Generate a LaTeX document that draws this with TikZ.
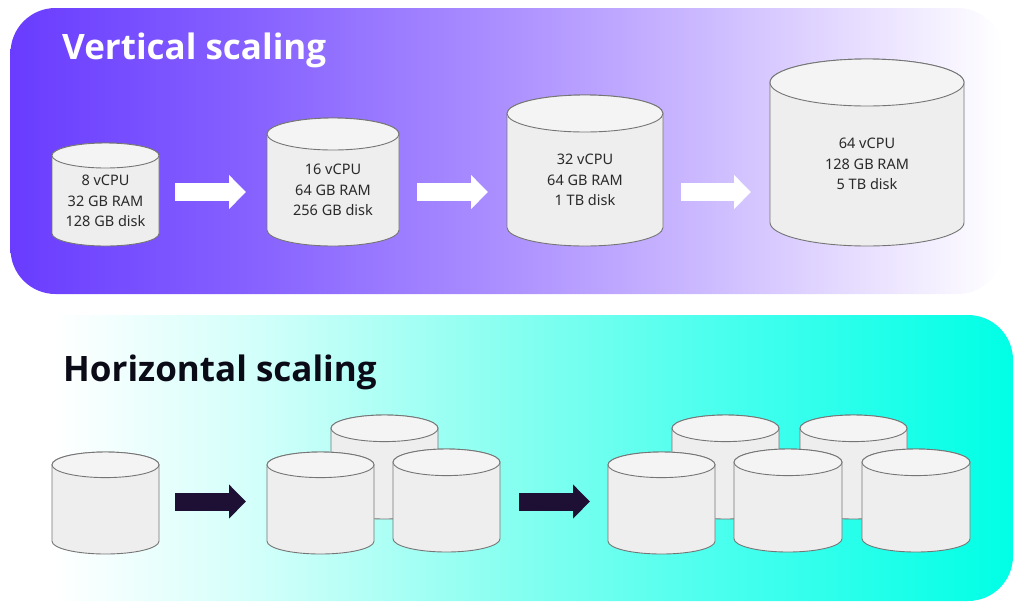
\documentclass[tikz,border=0pt]{standalone}
\usepackage{fontspec}
\setmainfont{Noto Sans}
\newfontfamily\titlefont{Open Sans}
\usetikzlibrary{arrows.meta,calc}
\definecolor{bodyc}{HTML}{EEEEEE}
\definecolor{topc}{HTML}{F4F4F5}
\definecolor{edgec}{HTML}{757575}
\definecolor{darkarrow}{HTML}{1E1035}
\definecolor{titledark}{HTML}{0B0B18}
\definecolor{textc}{HTML}{2A2A2A}
\pgfdeclarehorizontalshading{purpfade}{100bp}{
 rgb(0bp)=(0.412,0.235,1);
 rgb(25bp)=(0.412,0.235,1);
 rgb(37bp)=(0.525,0.380,1);
 rgb(50bp)=(0.675,0.565,1);
 rgb(60bp)=(0.800,0.730,1);
 rgb(68.3bp)=(0.915,0.880,1);
 rgb(73bp)=(0.975,0.965,1);
 rgb(75bp)=(1,1,1);
 rgb(100bp)=(1,1,1)}
\pgfdeclarehorizontalshading{tealfade}{100bp}{
 rgb(0bp)=(1,1,1);
 rgb(26.5bp)=(1,1,1);
 rgb(37bp)=(0.82,1,0.98);
 rgb(50bp)=(0.52,1,0.94);
 rgb(62bp)=(0.25,1,0.93);
 rgb(75bp)=(0,1,0.90);
 rgb(100bp)=(0,1,0.90)}
\tikzset{
 x=1pt,y=-1pt,
 panel/.style={rounded corners=45pt},
 cylbody/.style={draw=edgec,line width=0.9pt,fill=bodyc},
 cyltop/.style={draw=edgec,line width=0.9pt,fill=topc},
 cyllabel/.style={inner sep=0pt,text=textc,font=\fontsize{14.5}{20.5}\selectfont,align=center},
 titletext/.style={inner sep=0pt,anchor=base west,font=\titlefont\fontsize{35}{40}\selectfont\bfseries},
 whitearrow/.style={line width=18pt,white,-{Triangle[length=17pt,width=33pt]}},
 darkblock/.style={line width=18pt,darkarrow,-{Triangle[length=17pt,width=33pt]}},
}
% name, left, right, top y, ellipse ry, bottom y, label centre y, label
\newcommand{\cyl}[8]{%
 \pgfmathsetmacro{\rxv}{(#3-#2)/2}%
 \pgfmathsetmacro{\cxv}{(#3+#2)/2}%
 \pgfmathsetmacro{\cyv}{#4+#5}%
 \pgfmathsetmacro{\lowv}{#6-#5}%
 \draw[cylbody] (#2,\cyv) -- (#2,\lowv) arc[start angle=180,end angle=360,x radius=\rxv,y radius=-#5] -- (#3,\cyv) arc[start angle=0,end angle=180,x radius=\rxv,y radius=-#5] -- cycle;
 \draw[cyltop] (\cxv,\cyv) ellipse[x radius=\rxv,y radius=#5];
 \node[cyllabel] (#1) at (\cxv,#7) {#8};
}
\begin{document}
\begin{tikzpicture}
\useasboundingbox (0,0) rectangle (1024,611);
\shade[panel,shading=purpfade] (10.5,8) rectangle (1003,294);
\shade[panel,shading=tealfade] (25,315) rectangle (1013,601);
\node[titletext,text=white] (t1) at (62,59) {Vertical scaling};
\node[titletext,text=titledark] (t2) at (63,381) {Horizontal scaling};

\cyl{v1}{52}{159}{143}{12.5}{246}{201}{8 vCPU\\32 GB RAM\\128 GB disk}
\cyl{v2}{267}{399}{118}{16}{246}{190}{16 vCPU\\64 GB RAM\\256 GB disk}
\cyl{v3}{507}{663}{95}{18.5}{246}{180}{32 vCPU\\64 GB RAM\\1 TB disk}
\cyl{v4}{770}{964}{59}{23.5}{246}{164}{64 vCPU\\128 GB RAM\\5 TB disk}

\cyl{ha}{52}{159}{452}{12.8}{554}{515}{}
\cyl{hbb}{331}{438}{415}{13.3}{519}{480}{}
\cyl{hba}{267}{374}{452}{12.8}{554}{515}{}
\cyl{hbc}{393}{500}{449}{13.3}{552}{512}{}
\cyl{hcd}{672}{779}{415}{13.3}{519}{480}{}
\cyl{hce}{800}{907}{415}{13.3}{519}{480}{}
\cyl{hca}{608}{715}{452}{12.8}{554}{515}{}
\cyl{hcb}{734}{842}{449}{13.3}{552}{512}{}
\cyl{hcc}{862}{970}{449}{13.3}{552}{512}{}

\coordinate (a1s) at (175,192); \coordinate (a1e) at (246,192);
\coordinate (a2s) at (417,192); \coordinate (a2e) at (488,192);
\coordinate (a3s) at (681,192); \coordinate (a3e) at (751,192);
\coordinate (b1s) at (175,501.5); \coordinate (b1e) at (246,501.5);
\coordinate (b2s) at (519,501.5); \coordinate (b2e) at (590,501.5);
\draw[whitearrow] (a1s) -- (a1e);
\draw[whitearrow] (a2s) -- (a2e);
\draw[whitearrow] (a3s) -- (a3e);
\draw[darkblock] (b1s) -- (b1e);
\draw[darkblock] (b2s) -- (b2e);
\end{tikzpicture}
\end{document}
